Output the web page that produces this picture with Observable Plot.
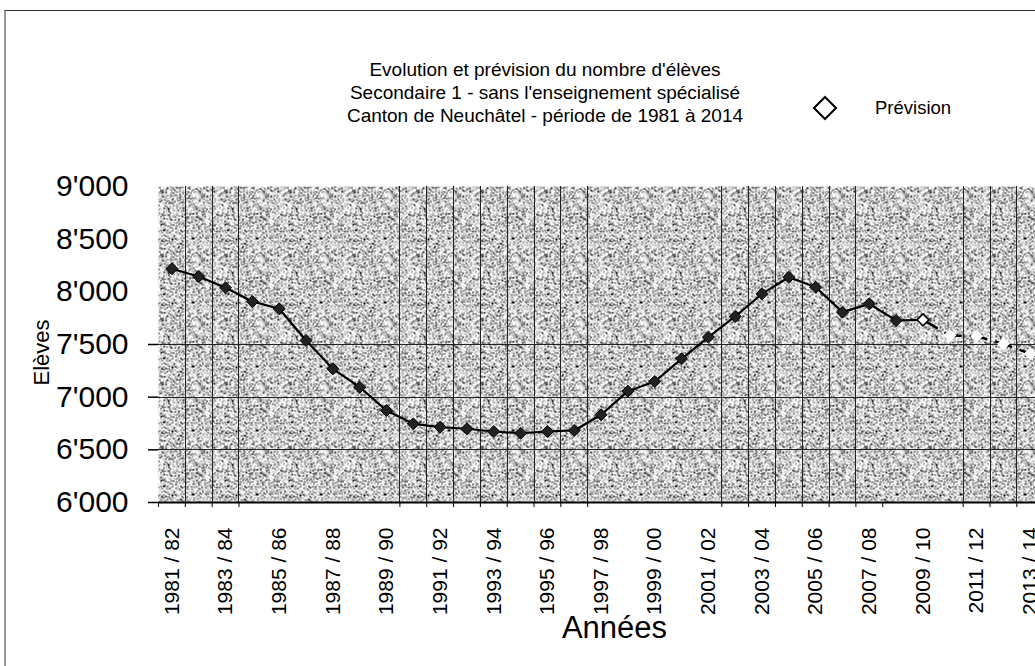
<!DOCTYPE html>
<html>
<head>
<meta charset="utf-8">
<script src="https://cdn.jsdelivr.net/npm/d3@7"></script>
<script src="https://cdn.jsdelivr.net/npm/@observablehq/plot@0.6"></script>
<style>
html, body { margin: 0; padding: 0; background: #fff; overflow: hidden; width: 1035px; height: 666px; }
body { position: relative; font-family: "Liberation Sans", Arial, sans-serif; color: #000; }
#frame { position: absolute; left: 4px; top: 10px; width: 1200px; height: 800px; border-top: 1px solid #333; border-left: 2px solid #999; }
#title { position: absolute; left: 295px; width: 500px; top: 58px; text-align: center; font-size: 19px; line-height: 23px; }
#legend { position: absolute; left: 812px; top: 95px; font-size: 18.5px; display: flex; align-items: center; }
#legend span { margin-left: 37px; }
#chart { position: absolute; left: 0; top: 0; width: 1100px; }
#chart svg { max-width: none !important; }
</style>
</head>
<body>
<div id="frame"></div>
<div id="title">Evolution et prévision du nombre d'élèves<br>Secondaire 1 - sans l'enseignement spécialisé<br>Canton de Neuchâtel - période de 1981 à 2014</div>
<div id="legend"><svg width="26" height="26" viewBox="0 0 26 26"><polygon points="13,2 24,13 13,24 2,13" fill="#fff" stroke="#000" stroke-width="2"/></svg><span>Prévision</span></div>
<div id="chart"></div>
<script>
// School years (categories)
const seasons = [
  "1981 / 82", "1982 / 83", "1983 / 84", "1984 / 85", "1985 / 86", "1986 / 87",
  "1987 / 88", "1988 / 89", "1989 / 90", "1990 / 91", "1991 / 92", "1992 / 93",
  "1993 / 94", "1994 / 95", "1995 / 96", "1996 / 97", "1997 / 98", "1998 / 99",
  "1999 / 00", "2000 / 01", "2001 / 02", "2002 / 03", "2003 / 04", "2004 / 05",
  "2005 / 06", "2006 / 07", "2007 / 08", "2008 / 09", "2009 / 10", "2010 / 11",
  "2011 / 12", "2012 / 13", "2013 / 14", "2014 / 15"
];
// Observed pupils, 1981/82 – 2008/09
const observed = [
  8219, 8146, 8038, 7908, 7839, 7538, 7269, 7095, 6873, 6747,
  6715, 6700, 6674, 6658, 6674, 6684, 6833, 7057, 7149, 7364,
  7570, 7766, 7981, 8139, 8044, 7807, 7886, 7728
];
// Forecast ("Prévision"), 2009/10 – 2014/15
const forecast = [7734, 7585, 7579, 7507, 7412, 7320];

// Axis ticks
const yTickLabels = [6000, 6500, 7000, 7500, 8000, 8500, 9000];
const yTickMarks = [6000, 6500, 7000, 7500];
const yGridLines = [6500, 7000, 7500];
// seasons whose left edge carries a visible vertical gridline
const xGridSeasons = [
  "1982 / 83", "1983 / 84", "1984 / 85",
  "1990 / 91", "1991 / 92", "1992 / 93", "1993 / 94", "1994 / 95", "1995 / 96", "1996 / 97", "1997 / 98",
  "2002 / 03", "2003 / 04", "2004 / 05", "2005 / 06", "2006 / 07", "2007 / 08",
  "2011 / 12", "2012 / 13", "2013 / 14"
];
const xTickSeasons = ["1981 / 82", ...xGridSeasons, "2008 / 09"];
const xLabelSeasons = [
  "1981 / 82", "1983 / 84", "1985 / 86", "1987 / 88", "1989 / 90", "1991 / 92",
  "1993 / 94", "1995 / 96", "1997 / 98", "1999 / 00", "2001 / 02", "2003 / 04",
  "2005 / 06", "2007 / 08", "2009 / 10", "2011 / 12", "2013 / 14"
];

const idx = s => seasons.indexOf(s);
const obsData = observed.map((v, i) => ({s: seasons[i], v}));
const fcData = forecast.map((v, j) => ({s: seasons[observed.length + j], v}));
const solidLine = [...obsData, fcData[0]];

const fmt = d => d3.format(",")(d).replace(",", "'");

const chart = Plot.plot({
  width: 1070,
  height: 666,
  marginLeft: 158,
  marginRight: 0,
  marginTop: 186,
  marginBottom: 164,
  style: {fontFamily: "'Liberation Sans', Arial, sans-serif", color: "#000", background: "transparent", overflow: "visible", maxWidth: "none"},
  x: {type: "linear", domain: [-0.5, seasons.length - 0.5], axis: null},
  y: {domain: [6000, 9000], axis: null},
  marks: [
    Plot.frame({fill: "url(#stip)"}),
    Plot.ruleX(xGridSeasons, {x: d => idx(d) - 0.5, stroke: "#222", strokeWidth: 1, shapeRendering: "crispEdges"}),
    Plot.ruleY(yGridLines, {stroke: "#222", strokeWidth: 1, shapeRendering: "crispEdges"}),
    Plot.axisY(yTickMarks, {tickSize: 10, tickFormat: () => "", label: null, stroke: "#000", strokeWidth: 1.5}),
    Plot.axisY(yTickLabels, {tickSize: 0, tickPadding: 30, fontSize: 30, tickFormat: fmt, label: null}),
    Plot.ruleY([6000], {stroke: "#000", strokeWidth: 2}),
    Plot.axisX(xTickSeasons.map(s => idx(s) - 0.5), {tickSize: 5, tickFormat: () => "", label: null, stroke: "#000"}),
    Plot.text(xLabelSeasons, {x: d => idx(d), text: d => d, frameAnchor: "bottom", dy: 25, rotate: -90, textAnchor: "end", lineAnchor: "middle", fontSize: 21, fill: "#000"}),
    Plot.text(["Elèves"], {frameAnchor: "left", dx: -117, dy: 8, rotate: -90, textAnchor: "middle", lineAnchor: "middle", fontSize: 22, fill: "#000"}),
    Plot.text(["Années"], {frameAnchor: "bottom", dy: 126, textAnchor: "middle", lineAnchor: "middle", fontSize: 31, fill: "#000"}),
    Plot.line(solidLine, {x: d => idx(d.s), y: "v", stroke: "#000", strokeWidth: 2.2}),
    Plot.line(fcData, {x: d => idx(d.s), y: "v", stroke: "#000", strokeWidth: 2.5, strokeDasharray: "16,10"}),
    Plot.dot(obsData, {x: d => idx(d.s), y: "v", symbol: "diamond2", r: 5.4, fill: "#222", stroke: "#000", strokeWidth: 1}),
    Plot.dot(fcData.slice(0, 1), {x: d => idx(d.s), y: "v", symbol: "diamond2", r: 5.4, fill: "#fff", stroke: "#000", strokeWidth: 1.5}),
    Plot.dot(fcData.slice(1), {x: d => idx(d.s), y: "v", symbol: "diamond2", r: 5.8, fill: "#fff", stroke: "none"})
  ]
});

// stipple texture for the plotting area (deterministic noise, decoration only)
function noise(x, y) {
  let t = (Math.imul(x + 1, 0x9E3779B1) ^ Math.imul(y + 7, 0x85EBCA77)) >>> 0;
  t = (t + 0x6D2B79F5) | 0;
  t = Math.imul(t ^ (t >>> 15), t | 1);
  t ^= t + Math.imul(t ^ (t >>> 7), t | 61);
  return ((t ^ (t >>> 14)) >>> 0) / 4294967296;
}
const T = 64;
const defs = d3.select(chart).insert("defs", ":first-child");
const pat = defs.append("pattern").attr("id", "stip").attr("width", T).attr("height", T).attr("patternUnits", "userSpaceOnUse");
pat.append("rect").attr("width", T).attr("height", T).attr("fill", "#fff");
for (let yy = 0; yy < T; yy++) for (let xx = 0; xx < T; xx++) {
  const h = noise(xx, yy);
  const c = h < 0.11 ? "#000" : h < 0.20 ? "#777" : h < 0.50 ? "#c4c4c4" : null;
  if (c) pat.append("rect").attr("x", xx).attr("y", yy).attr("width", 1).attr("height", 1).attr("fill", c).attr("shape-rendering", "crispEdges");
}

document.getElementById("chart").appendChild(chart);
</script>
</body>
</html>
